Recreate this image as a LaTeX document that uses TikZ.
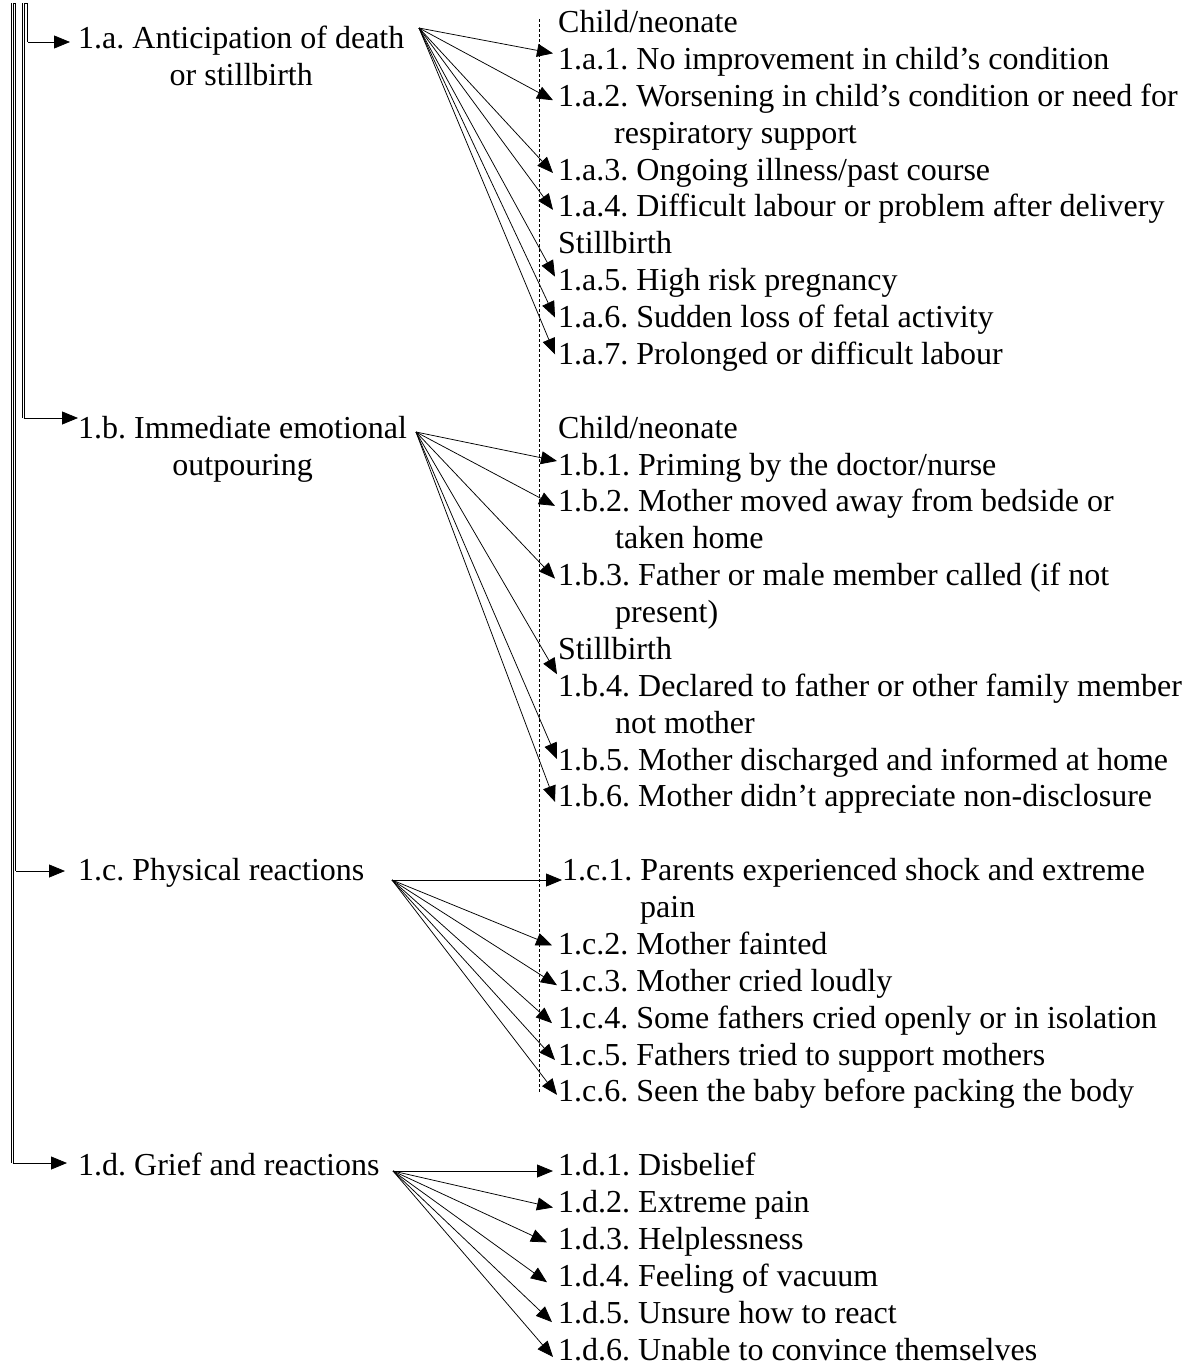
\documentclass[tikz,border=0pt]{standalone}
\usepackage{fontspec}
\setmainfont{Liberation Serif}
\usetikzlibrary{arrows.meta}
\begin{document}
\frenchspacing
\begin{tikzpicture}[x=1pt,y=-1pt,
  every node/.style={font=\fontsize{32}{37}\selectfont\frenchspacing, inner sep=0pt},
  item/.style={anchor=base west},
  lab/.style={anchor=base west, text height=22pt, text depth=6pt},
  fan/.style={-{Triangle[length=16pt,width=13pt]}, line width=0.75pt},
  feed/.style={line width=0.6pt},
  dline/.style={double, double distance=1pt, line width=0.55pt},
  guide/.style={dash pattern=on 3pt off 2pt, line width=0.7pt}]
\useasboundingbox (0,0) rectangle (1191,1365);

% ---- left labels
\node[lab] (la) at (78,48) {1.a. Anticipation of death};
\node[anchor=base] (la2) at ([yshift=-37pt]la.base) {or stillbirth};
\node[lab] (lb) at (78,438.125) {1.b. Immediate emotional};
\node[anchor=base] (lb2) at ([yshift=-37pt]lb.base) {outpouring};
\node[lab] (lc) at (78,880.625) {1.c. Physical reactions};
\node[lab] (ld) at (78,1175.625) {1.d. Grief and reactions};

% ---- left feeder lines
\coordinate (jd) at (12.5,3);
\coordinate (jc) at (16,3);
\coordinate (jb) at (23.5,3);
\coordinate (ja) at (28,3);
\coordinate (ed) at (12.5,1163);
\coordinate (ec) at (16,871);
\coordinate (eb) at (23.5,418);
\coordinate (ea) at (28,42);
\draw[feed] (jd) -- (jc);
\draw[feed] (jb) -- (ja);
\draw[dline] (ja) -- (ea);
\draw[dline] (jb) -- (eb);
\draw[dline] (jc) -- (ec);
\draw[dline] (jd) -- (ed);
\draw[fan,shorten >=8pt] (ea) -- (ea -| la.west);
\draw[fan] (eb) -- (eb -| lb.west);
\draw[fan,shorten >=13pt] (ec) -- (ec -| lc.west);
\draw[fan,shorten >=11pt] (ed) -- (ed -| ld.west);

% ---- dashed guide
\coordinate (gt) at (539,19);
\coordinate (gb) at (539,1093);
\draw[guide] (gt) -- (gb);

% ---- right column
\node[item] (ha) at (558,32.5) {Child/neonate};
\node[item] (a1) at (558,69.375) {1.a.1. No improvement in child’s condition};
\node[item] (a2) at (558,106.25) {1.a.2. Worsening in child’s condition or need for};
\node[item] (a2b) at (614,143.125) {respiratory support};
\node[item] (a3) at (558,180) {1.a.3. Ongoing illness/past course};
\node[item] (a4) at (558,216.875) {1.a.4. Difficult labour or problem after delivery};
\node[item] (sa) at (558,253.75) {Stillbirth};
\node[item] (a5) at (558,290.625) {1.a.5. High risk pregnancy};
\node[item] (a6) at (558,327.5) {1.a.6. Sudden loss of fetal activity};
\node[item] (a7) at (558,364.375) {1.a.7. Prolonged or difficult labour};

\node[item] (hb) at (558,438.125) {Child/neonate};
\node[item] (b1) at (558,475) {1.b.1. Priming by the doctor/nurse};
\node[item] (b2) at (558,511.875) {1.b.2. Mother moved away from bedside or};
\node[item] (b2b) at (615,548.75) {taken home};
\node[item] (b3) at (558,585.625) {1.b.3. Father or male member called (if not};
\node[item] (b3b) at (615,622.5) {present)};
\node[item] (sb) at (558,659.375) {Stillbirth};
\node[item] (b4) at (558,696.25) {1.b.4. Declared to father or other family member};
\node[item] (b4b) at (615,733.125) {not mother};
\node[item] (b5) at (558,770) {1.b.5. Mother discharged and informed at home};
\node[item] (b6) at (558,806.875) {1.b.6. Mother didn’t appreciate non-disclosure};

\node[item] (c1) at (562,880.625) {1.c.1. Parents experienced shock and extreme};
\node[item] (c1b) at (640,917.5) {pain};
\node[item] (c2) at (558,954.375) {1.c.2. Mother fainted};
\node[item] (c3) at (558,991.25) {1.c.3. Mother cried loudly};
\node[item] (c4) at (558,1028.125) {1.c.4. Some fathers cried openly or in isolation};
\node[item] (c5) at (558,1065) {1.c.5. Fathers tried to support mothers};
\node[item] (c6) at (558,1101.875) {1.c.6. Seen the baby before packing the body};

\node[item] (d1) at (558,1175.625) {1.d.1. Disbelief};
\node[item] (d2) at (558,1212.5) {1.d.2. Extreme pain};
\node[item] (d3) at (558,1249.375) {1.d.3. Helplessness};
\node[item] (d4) at (558,1286.25) {1.d.4. Feeling of vacuum};
\node[item] (d5) at (558,1323.125) {1.d.5. Unsure how to react};
\node[item] (d6) at (558,1360) {1.d.6. Unable to convince themselves};

% ---- fan origins
\coordinate (oa) at (419,28);
\coordinate (ob) at (416,432);
\coordinate (oc) at (392,880);
\coordinate (od) at (393,1171);

% ---- fans
\draw[fan] (oa) -- ([xshift=-5pt,yshift=16pt]a1.base west);
\draw[fan] (oa) -- ([xshift=-5pt,yshift=6pt]a2.base west);
\draw[fan] (oa) -- ([xshift=-5pt,yshift=7pt]a3.base west);
\draw[fan] (oa) -- ([xshift=-5pt,yshift=7pt]a4.base west);
\draw[fan] (oa) -- ([xshift=-3pt,yshift=14pt]a5.base west);
\draw[fan] (oa) -- ([xshift=-3pt,yshift=10pt]a6.base west);
\draw[fan] (oa) -- ([xshift=-3pt,yshift=10pt]a7.base west);

\draw[fan] (ob) -- ([xshift=-1pt,yshift=14pt]b1.base west);
\draw[fan] (ob) -- ([xshift=-3pt,yshift=6pt]b2.base west);
\draw[fan] (ob) -- ([xshift=-3pt,yshift=7pt]b3.base west);
\draw[fan] (ob) -- ([xshift=-1pt,yshift=22pt]b4.base west);
\draw[fan] (ob) -- ([xshift=-1pt,yshift=11pt]b5.base west);
\draw[fan] (ob) -- ([xshift=-3pt,yshift=5pt]b6.base west);

\draw[fan] (oc) -- ([xshift=0pt,yshift=0.625pt]c1.base west);
\draw[fan] (oc) -- ([xshift=-6pt,yshift=9pt]c2.base west);
\draw[fan] (oc) -- ([xshift=-1pt,yshift=6pt]c3.base west);
\draw[fan] (oc) -- ([xshift=-6pt,yshift=5pt]c4.base west);
\draw[fan] (oc) -- ([xshift=-3pt,yshift=5pt]c5.base west);
\draw[fan] (oc) -- ([xshift=-1pt,yshift=7pt]c6.base west);

\draw[fan] (od) -- ([xshift=-5pt,yshift=4.625pt]d1.base west);
\draw[fan] (od) -- ([xshift=-5pt,yshift=5pt]d2.base west);
\draw[fan] (od) -- ([xshift=-11pt,yshift=7pt]d3.base west);
\draw[fan] (od) -- ([xshift=-11pt,yshift=4pt]d4.base west);
\draw[fan] (od) -- ([xshift=-6pt,yshift=1pt]d5.base west);
\draw[fan] (od) -- ([xshift=-5pt,yshift=3pt]d6.base west);
\end{tikzpicture}
\end{document}
